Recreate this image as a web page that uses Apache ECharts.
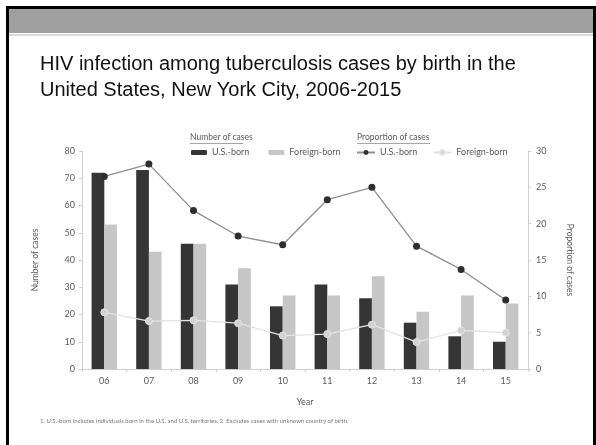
<!DOCTYPE html>
<html>
<head>
<meta charset="utf-8">
<style>
  html, body { margin: 0; padding: 0; background: #fff; }
  #chart { width: 596px; height: 445px; }
</style>
<script src="https://cdn.jsdelivr.net/npm/echarts@6/dist/echarts.min.js"></script>
</head>
<body>
<div id="chart"></div>
<script>
// Years shown on the category axis (2006-2015)
const years = ['06', '07', '08', '09', '10', '11', '12', '13', '14', '15'];

// Number of HIV-positive TB cases
const usBornCases = [72, 73, 46, 31, 23, 31, 26, 17, 12, 10];
const foreignBornCases = [53, 43, 46, 37, 27, 27, 34, 21, 27, 24];

// Proportion of TB cases with HIV infection (%)
const usBornPct = [26.5, 28.2, 21.8, 18.3, 17.1, 23.3, 25.0, 16.9, 13.7, 9.5];
const foreignBornPct = [7.8, 6.6, 6.7, 6.3, 4.6, 4.8, 6.1, 3.7, 5.3, 5.0];

// Axis ticks
const leftTicks = { min: 0, max: 80, interval: 10 };
const rightTicks = { min: 0, max: 30, interval: 5 };

const legendText = {
  barUS: 'U.S.-born',
  barFB: 'Foreign-born',
  lineUS: 'U.S.-born',
  lineFB: 'Foreign-born'
};

const FONT = 'Lato, "Liberation Sans", sans-serif';
const AXIS_GREY = '#cfcfcf';
const TEXT_GREY = '#5a5a5a';

const chart = echarts.init(document.getElementById('chart'), null, { renderer: 'canvas' });

chart.setOption({
  animation: false,
  backgroundColor: '#fff',
  textStyle: { fontFamily: FONT },
  graphic: [
    // slide frame
    { type: 'rect', shape: { x: 6, y: 6, width: 3, height: 439 }, style: { fill: '#000' } },
    { type: 'rect', shape: { x: 6, y: 6, width: 590, height: 3 }, style: { fill: '#000' } },
    { type: 'rect', shape: { x: 593, y: 6, width: 3, height: 439 }, style: { fill: '#000' } },
    { type: 'rect', shape: { x: 9, y: 9, width: 584, height: 24 }, style: { fill: '#a0a0a0' } },
    { type: 'rect', shape: { x: 9, y: 34, width: 584, height: 2 }, style: { fill: '#dadada' } },
    // slide title
    {
      type: 'text', left: 40, top: 51,
      style: {
        text: 'HIV infection among tuberculosis cases by birth in the\nUnited States, New York City, 2006-2015',
        font: '20px "Liberation Sans", Arial, sans-serif',
        fill: '#111', lineHeight: 26
      }
    },
    // legend headings
    {
      type: 'text', left: 190, top: 133,
      style: { text: 'Number of cases', font: '8.5px ' + FONT, fill: TEXT_GREY }
    },
    { type: 'rect', shape: { x: 190, y: 143, width: 53, height: 0.8 }, style: { fill: '#888' } },
    {
      type: 'text', left: 357, top: 133,
      style: { text: 'Proportion of cases', font: '8.5px ' + FONT, fill: TEXT_GREY }
    },
    { type: 'rect', shape: { x: 357, y: 143, width: 73, height: 0.8 }, style: { fill: '#888' } },
    // footnote
    {
      type: 'text', left: 40, top: 418,
      style: {
        text: '1. U.S.-born includes individuals born in the U.S. and U.S. territories. 2. Excludes cases with unknown country of birth.',
        font: '6px ' + FONT, fill: '#777'
      }
    }
  ],
  legend: [
    {
      data: ['barUS', 'barFB'],
      left: 191, top: 148, padding: 0,
      itemWidth: 16, itemHeight: 5, itemGap: 19,
      formatter: n => legendText[n],
      textStyle: { fontSize: 9, color: TEXT_GREY, fontFamily: FONT },
      selectedMode: false
    },
    {
      data: ['lineUS', 'lineFB'],
      left: 356, top: 148, padding: 0,
      itemWidth: 18, itemHeight: 6, itemGap: 15,
      formatter: n => legendText[n],
      textStyle: { fontSize: 9, color: TEXT_GREY, fontFamily: FONT },
      selectedMode: false
    }
  ],
  grid: { left: 82, right: 68, top: 151, bottom: 76, containLabel: false },
  xAxis: {
    type: 'category',
    data: years,
    name: 'Year',
    nameLocation: 'middle',
    nameGap: 29,
    nameTextStyle: { fontSize: 9, color: TEXT_GREY, fontFamily: FONT },
    axisLine: { lineStyle: { color: AXIS_GREY, width: 1 } },
    axisTick: { show: true, length: 3, alignWithLabel: false, lineStyle: { color: AXIS_GREY } },
    axisLabel: { fontSize: 9, color: TEXT_GREY, fontFamily: FONT, margin: 8 }
  },
  yAxis: [
    {
      type: 'value',
      min: leftTicks.min, max: leftTicks.max, interval: leftTicks.interval,
      name: 'Number of cases',
      nameLocation: 'middle',
      nameGap: 42,
      nameRotate: 90,
      nameTextStyle: { fontSize: 8.5, color: TEXT_GREY, fontFamily: FONT },
      axisLine: { show: true, lineStyle: { color: AXIS_GREY } },
      axisTick: { show: true, length: 3, lineStyle: { color: AXIS_GREY } },
      axisLabel: { fontSize: 9, color: TEXT_GREY, fontFamily: FONT, margin: 7 },
      splitLine: { show: false }
    },
    {
      type: 'value',
      position: 'right',
      min: rightTicks.min, max: rightTicks.max, interval: rightTicks.interval,
      name: 'Proportion of cases',
      nameLocation: 'middle',
      nameGap: 37,
      nameRotate: -90,
      nameTextStyle: { fontSize: 8.5, color: TEXT_GREY, fontFamily: FONT },
      axisLine: { show: true, lineStyle: { color: AXIS_GREY } },
      axisTick: { show: true, length: 3, lineStyle: { color: AXIS_GREY } },
      axisLabel: { fontSize: 9, color: TEXT_GREY, fontFamily: FONT, margin: 8 },
      splitLine: { show: false }
    }
  ],
  series: [
    {
      name: 'barUS', type: 'bar', yAxisIndex: 0,
      data: usBornCases,
      barWidth: 12.7, barGap: '0%',
      itemStyle: { color: '#353535' }
    },
    {
      name: 'barFB', type: 'bar', yAxisIndex: 0,
      data: foreignBornCases,
      barWidth: 12.7, barGap: '0%',
      itemStyle: { color: '#c6c6c6' }
    },
    {
      name: 'lineFB', type: 'line', yAxisIndex: 1,
      data: foreignBornPct,
      symbol: 'circle', symbolSize: 7,
      lineStyle: { color: '#e3e3e3', width: 1.3 },
      itemStyle: { color: '#d2d2d2', borderColor: '#e6e6e6', borderWidth: 1 },
      z: 3
    },
    {
      name: 'lineUS', type: 'line', yAxisIndex: 1,
      data: usBornPct,
      symbol: 'circle', symbolSize: 7,
      lineStyle: { color: '#8f8f8f', width: 1.3 },
      itemStyle: { color: '#2e2e2e' },
      z: 4
    }
  ]
});
</script>
</body>
</html>
